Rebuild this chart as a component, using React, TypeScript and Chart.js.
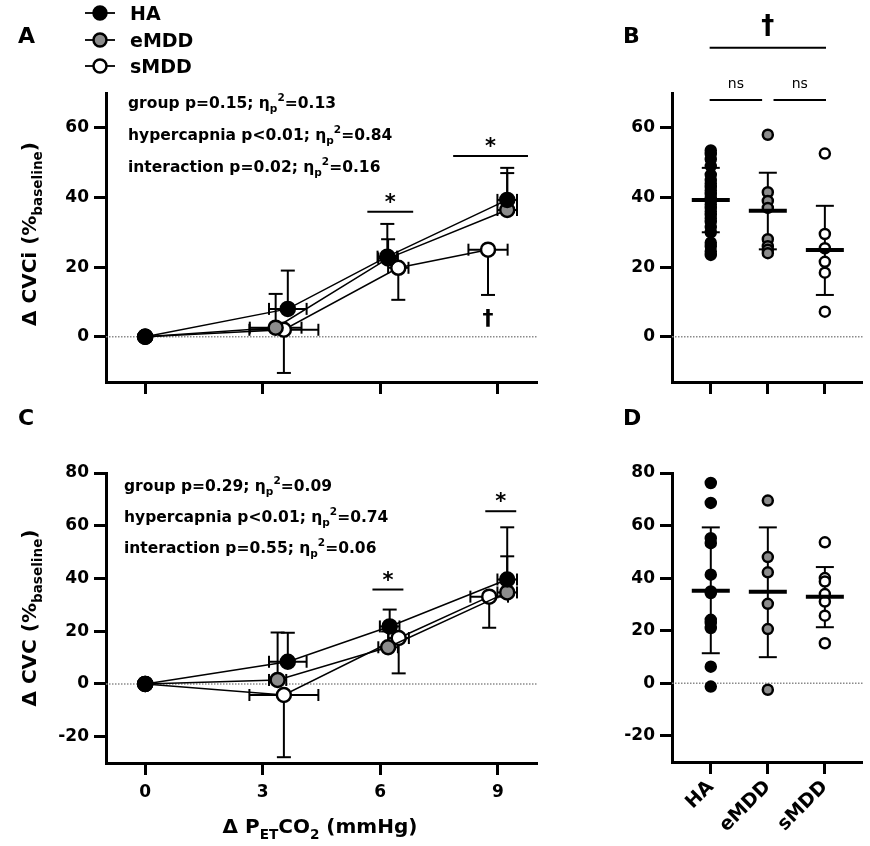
import React, { useEffect, useRef } from "react";
import { Chart, registerables } from "chart.js";

Chart.register(...registerables);

const FONT = '"DejaVu Sans", "Liberation Sans", Arial, sans-serif';

// ---------- shared ----------
const groups = ["HA", "eMDD", "sMDD"];
const groupFill = ["#000000", "#8c8c8c", "#ffffff"];
const errDir = [1, 1, -1]; // vertical error bars drawn above (HA, eMDD) or below (sMDD)
const co2Ticks = [0, 3, 6, 9];
const cvciTicks = [0, 20, 40, 60];
const cvcTicks = [-20, 0, 20, 40, 60, 80];
const groupTicks = [0, 1, 2];

// ---------- Panel A: ΔCVCi vs ΔPETCO2 ----------
const aHAx = [0, 3.64, 6.18, 9.24];
const aHAy = [0, 8.0, 23.0, 39.3];
const aHAxErr = [0, 0.48, 0.25, 0.25];
const aHAyErr = [0, 11.0, 9.4, 9.2];
const aEMx = [0, 3.33, 6.2, 9.24];
const aEMy = [0, 2.6, 22.5, 36.4];
const aEMxErr = [0, 0.66, 0.25, 0.25];
const aEMyErr = [0, 9.7, 5.5, 10.6];
const aSMx = [0, 3.54, 6.46, 8.75];
const aSMy = [0, 2.0, 19.8, 25.0];
const aSMxErr = [0, 0.88, 0.26, 0.5];
const aSMyErr = [0, 12.4, 9.2, 13.0];
const aStats = [
  ["group p=0.15; η", "=0.13"],
  ["hypercapnia p<0.01; η", "=0.84"],
  ["interaction p=0.02; η", "=0.16"],
];
const aSigX1 = [5.67, 7.86];
const aSigX2 = [6.84, 9.77];
const aSigY = [35.9, 51.9];
const aDagX = [8.75];
const aDagY = [5.5];

// ---------- Panel C: ΔCVC vs ΔPETCO2 ----------
const cHAx = [0, 3.64, 6.24, 9.24];
const cHAy = [0, 8.4, 21.8, 39.6];
const cHAxErr = [0, 0.48, 0.25, 0.25];
const cHAyErr = [0, 11.0, 6.4, 19.8];
const cEMx = [0, 3.38, 6.2, 9.24];
const cEMy = [0, 1.5, 13.9, 34.7];
const cEMxErr = [0, 0.22, 0.25, 0.25];
const cEMyErr = [0, 18.0, 6.0, 13.7];
const cSMx = [0, 3.54, 6.47, 8.78];
const cSMy = [0, -4.2, 17.4, 33.1];
const cSMxErr = [0, 0.88, 0.26, 0.48];
const cSMyErr = [0, 23.6, 13.4, 11.8];
const cStats = [
  ["group p=0.29; η", "=0.09"],
  ["hypercapnia p<0.01; η", "=0.74"],
  ["interaction p=0.55; η", "=0.06"],
];
const cSigX1 = [5.8, 8.68];
const cSigX2 = [6.59, 9.47];
const cSigY = [35.8, 65.5];

// ---------- Panel B: individual ΔCVCi ----------
const bHA = [53.5, 52.5, 51, 49, 46.5, 45, 44, 43, 42, 41, 40, 39, 38, 37, 36, 35, 34, 33, 31.5, 30, 27, 26, 24.5, 23.5];
const bEM = [58, 41.5, 39, 37, 28, 26, 25, 24];
const bSM = [52.6, 29.5, 25.4, 21.5, 18.4, 7.2];
const bMean = [39.3, 36.2, 24.9];
const bSdLow = [30.0, 25.1, 12.0];
const bSdHigh = [48.5, 47.1, 37.6];
const bBrX1 = [-0.02, -0.02, 1.1];
const bBrX2 = [2.02, 0.9, 2.02];
const bBrY = [83, 68, 68];
const bBrLabel = ["†", "ns", "ns"];

// ---------- Panel D: individual ΔCVC ----------
const dHA = [76.2, 68.6, 55.2, 53.3, 41.3, 34.9, 34.3, 24.1, 22.9, 21.0, 6.3, -1.3];
const dEM = [69.5, 48.0, 42.2, 30.2, 20.6, -2.5];
const dSM = [53.6, 40.0, 38.7, 33.9, 31.1, 25.7, 15.2];
const dMean = [35.2, 34.8, 32.9];
const dSdLow = [11.4, 9.9, 21.3];
const dSdHigh = [59.3, 59.3, 44.2];

// ---------- helpers ----------
type Part = [string, "n" | "sub" | "sup"];

function richWidth(ctx: any, parts: Part[], size: number, weight = "bold") {
  let w = 0;
  for (const [t, k] of parts) {
    const s = k === "n" ? size : size * 0.68;
    ctx.font = `${weight} ${s}px ${FONT}`;
    w += ctx.measureText(t).width;
  }
  return w;
}

function drawRich(ctx: any, x: number, y: number, parts: Part[], size: number, weight = "bold") {
  let cx = x;
  ctx.textBaseline = "alphabetic";
  ctx.textAlign = "left";
  ctx.fillStyle = "#000";
  for (const [t, k] of parts) {
    const s = k === "n" ? size : size * 0.68;
    ctx.font = `${weight} ${s}px ${FONT}`;
    const dy = k === "sub" ? size * 0.28 : k === "sup" ? -size * 0.42 : 0;
    ctx.fillText(t, cx, y + dy);
    cx += ctx.measureText(t).width;
  }
  return cx - x;
}

function seg(ctx: any, x1: number, y1: number, x2: number, y2: number) {
  ctx.beginPath();
  ctx.moveTo(x1, y1);
  ctx.lineTo(x2, y2);
  ctx.stroke();
}

function text(ctx: any, t: string, x: number, y: number, size: number, weight = "bold", align = "center") {
  ctx.font = `${weight} ${size}px ${FONT}`;
  ctx.textAlign = align;
  ctx.textBaseline = "alphabetic";
  ctx.fillStyle = "#000";
  ctx.fillText(t, x, y);
}

function zeroLine(chart: any) {
  const { ctx, chartArea, scales } = chart;
  const y = scales.y.getPixelForValue(0);
  ctx.save();
  ctx.strokeStyle = "#8a8a8a";
  ctx.lineWidth = 1.5;
  ctx.setLineDash([1.5, 1.5]);
  seg(ctx, chartArea.left, y, chartArea.right, y);
  ctx.restore();
}

function axis(ticks: number[], min: number, max: number, opts: any) {
  return {
    type: "linear",
    min,
    max,
    bounds: "data",
    afterBuildTicks: (s: any) => {
      s.ticks = ticks.map((v) => ({ value: v }));
    },
    afterFit: (s: any) => {
      if (opts.width !== undefined) s.width = opts.width;
      if (opts.height !== undefined) s.height = opts.height;
    },
    grid: { drawOnChartArea: false, drawTicks: true, tickLength: 12, tickWidth: 3, tickColor: "#000" },
    border: { display: true, width: 3, color: "#000" },
    ticks: {
      display: opts.labels,
      color: "#000",
      font: { family: FONT, size: opts.fontSize || 17, weight: "bold" },
      padding: opts.padding ?? 5,
      autoSkip: false,
      minRotation: opts.rotation || 0,
      maxRotation: opts.rotation || 0,
      callback: opts.callback || ((v: any) => String(v)),
    },
  };
}

type Series = { x: number[]; y: number[]; xErr: number[]; yErr: number[] };

function lineConfig(p: any) {
  const series: Series[] = p.series;
  const datasets = series.map((s, i) => ({
    data: s.x.map((xv, j) => ({ x: xv, y: s.y[j] })),
    showLine: true,
    borderColor: "#000",
    borderWidth: 1.5,
    pointRadius: 7,
    pointBorderWidth: 2.5,
    pointBackgroundColor: groupFill[i],
    pointBorderColor: "#000",
    backgroundColor: groupFill[i],
    clip: false,
  }));
  const errPlugin = {
    id: "errbars",
    beforeDatasetsDraw(chart: any) {
      const { ctx, scales } = chart;
      zeroLine(chart);
      ctx.save();
      ctx.strokeStyle = "#000";
      ctx.lineWidth = 2;
      for (let si = series.length - 1; si >= 0; si--) {
        const s = series[si];
        for (let j = 0; j < s.x.length; j++) {
          const px = scales.x.getPixelForValue(s.x[j]);
          const py = scales.y.getPixelForValue(s.y[j]);
          if (s.yErr[j] > 0) {
            const p1 = scales.y.getPixelForValue(s.y[j] + errDir[si] * s.yErr[j]);
            seg(ctx, px, py, px, p1);
            seg(ctx, px - 7, p1, px + 7, p1);
          }
          if (s.xErr[j] > 0) {
            const q1 = scales.x.getPixelForValue(s.x[j] - s.xErr[j]);
            const q2 = scales.x.getPixelForValue(s.x[j] + s.xErr[j]);
            seg(ctx, q1, py, q2, py);
            seg(ctx, q1, py - 6, q1, py + 6);
            seg(ctx, q2, py - 6, q2, py + 6);
          }
        }
      }
      ctx.restore();
    },
    afterDraw(chart: any) {
      const { ctx, scales } = chart;
      ctx.save();
      p.overlay(ctx, scales, p.ox, p.oy);
      ctx.restore();
    },
  };
  return {
    type: "scatter",
    data: { datasets },
    options: {
      responsive: false,
      animation: false,
      devicePixelRatio: 1,
      events: [],
      layout: { padding: p.padding },
      plugins: { legend: { display: false }, tooltip: { enabled: false } },
      scales: {
        x: axis(co2Ticks, -1, 10, { labels: p.xLabels, height: p.xHeight, padding: 7, fontSize: 17 }),
        y: axis(p.yTicks, p.yMin, p.yMax, { labels: true, width: 60 }),
      },
    },
    plugins: [errPlugin],
  };
}

function dotConfig(p: any) {
  const sets: number[][] = p.sets;
  const datasets = sets.map((vals, i) => ({
    data: vals.map((v) => ({ x: i, y: v })),
    showLine: false,
    pointRadius: 5,
    pointBorderWidth: 2.5,
    pointBackgroundColor: groupFill[i],
    pointBorderColor: "#000",
    clip: false,
  }));
  const plug = {
    id: "summary",
    beforeDatasetsDraw(chart: any) {
      const { ctx, scales } = chart;
      zeroLine(chart);
      ctx.save();
      ctx.strokeStyle = "#000";
      ctx.lineWidth = 2;
      for (let i = 0; i < p.mean.length; i++) {
        const px = scales.x.getPixelForValue(i);
        const lo = scales.y.getPixelForValue(p.low[i]);
        const hi = scales.y.getPixelForValue(p.high[i]);
        seg(ctx, px, lo, px, hi);
        seg(ctx, px - 9, lo, px + 9, lo);
        seg(ctx, px - 9, hi, px + 9, hi);
      }
      ctx.restore();
    },
    afterDatasetsDraw(chart: any) {
      const { ctx, scales } = chart;
      ctx.save();
      ctx.strokeStyle = "#000";
      ctx.lineWidth = 4;
      for (let i = 0; i < p.mean.length; i++) {
        const px = scales.x.getPixelForValue(i);
        const m = scales.y.getPixelForValue(p.mean[i]);
        seg(ctx, px - 19, m, px + 19, m);
      }
      ctx.restore();
    },
    afterDraw(chart: any) {
      const { ctx, scales } = chart;
      ctx.save();
      p.overlay(ctx, scales, p.ox, p.oy);
      ctx.restore();
    },
  };
  return {
    type: "scatter",
    data: { datasets },
    options: {
      responsive: false,
      animation: false,
      devicePixelRatio: 1,
      events: [],
      layout: { padding: p.padding },
      plugins: { legend: { display: false }, tooltip: { enabled: false } },
      scales: {
        x: axis(groupTicks, -0.68, 2.66, {
          labels: p.xLabels,
          height: p.xHeight,
          rotation: 45,
          fontSize: 19,
          padding: 2,
          callback: (v: any) => groups[v] ?? "",
        }),
        y: axis(p.yTicks, p.yMin, p.yMax, { labels: true, width: 60 }),
      },
    },
    plugins: [plug],
  };
}

function statsBlock(ctx: any, stats: string[][], x: number, ys: number[]) {
  stats.forEach((s, i) => {
    drawRich(ctx, x, ys[i], [[s[0], "n"], ["p", "sub"], ["2", "sup"], [s[1], "n"]], 15.5);
  });
}

function yTitle(ctx: any, parts: Part[], cx: number, cy: number) {
  ctx.save();
  ctx.translate(cx, cy);
  ctx.rotate(-Math.PI / 2);
  const w = richWidth(ctx, parts, 20);
  drawRich(ctx, -w / 2, 7, parts, 20);
  ctx.restore();
}

function sigBars(ctx: any, scales: any, x1: number[], x2: number[], ys: number[]) {
  ctx.strokeStyle = "#000";
  ctx.lineWidth = 2;
  for (let i = 0; i < ys.length; i++) {
    const a = scales.x.getPixelForValue(x1[i]);
    const b = scales.x.getPixelForValue(x2[i]);
    const y = scales.y.getPixelForValue(ys[i]);
    seg(ctx, a, y, b, y);
    text(ctx, "*", (a + b) / 2, y - 3, 21);
  }
}

function legend(ctx: any) {
  const ys = [13, 40, 66];
  ctx.strokeStyle = "#000";
  groups.forEach((g, i) => {
    ctx.lineWidth = 1.8;
    seg(ctx, 85, ys[i], 115, ys[i]);
    ctx.beginPath();
    ctx.arc(100, ys[i], 6.5, 0, Math.PI * 2);
    ctx.fillStyle = groupFill[i];
    ctx.fill();
    ctx.lineWidth = 2.5;
    ctx.stroke();
    text(ctx, g, 130, ys[i] + 7, 19, "bold", "left");
  });
}

// ---------- overlays (page coordinates minus offsets) ----------
function overlayA(ctx: any, scales: any, ox: number, oy: number) {
  text(ctx, "A", 18 - ox, 43 - oy, 22, "bold", "left");
  legend(ctx);
  statsBlock(ctx, aStats, 128 - ox, [108 - oy, 140 - oy, 172 - oy]);
  yTitle(ctx, [["Δ CVCi (%", "n"], ["baseline", "sub"], [")", "n"]], 29 - ox, 234 - oy);
  sigBars(ctx, scales, aSigX1, aSigX2, aSigY);
  for (let i = 0; i < aDagX.length; i++) {
    text(ctx, "†", scales.x.getPixelForValue(aDagX[i]), scales.y.getPixelForValue(aDagY[i]) + 7, 22);
  }
}

function overlayC(ctx: any, scales: any, ox: number, oy: number) {
  text(ctx, "C", 18 - ox, 425 - oy, 22, "bold", "left");
  statsBlock(ctx, cStats, 124 - ox, [491 - oy, 522 - oy, 553 - oy]);
  yTitle(ctx, [["Δ CVC (%", "n"], ["baseline", "sub"], [")", "n"]], 29 - ox, 618 - oy);
  sigBars(ctx, scales, cSigX1, cSigX2, cSigY);
  const parts: Part[] = [["Δ P", "n"], ["ET", "sub"], ["CO", "n"], ["2", "sub"], [" (mmHg)", "n"]];
  const w = richWidth(ctx, parts, 20);
  drawRich(ctx, 320 - ox - w / 2, 833 - oy, parts, 20);
}

function overlayB(ctx: any, scales: any, ox: number, oy: number) {
  text(ctx, "B", 623 - ox, 43 - oy, 22, "bold", "left");
  ctx.strokeStyle = "#000";
  ctx.lineWidth = 2;
  for (let i = 0; i < bBrY.length; i++) {
    const a = scales.x.getPixelForValue(bBrX1[i]);
    const b = scales.x.getPixelForValue(bBrX2[i]);
    const y = scales.y.getPixelForValue(bBrY[i]);
    seg(ctx, a, y, b, y);
    if (bBrLabel[i] === "ns") text(ctx, "ns", (a + b) / 2, y - 12, 14, "normal");
    else text(ctx, bBrLabel[i], (a + b) / 2, y - 14, 26);
  }
}

function overlayD(ctx: any, scales: any, ox: number, oy: number) {
  text(ctx, "D", 623 - ox, 425 - oy, 22, "bold", "left");
}

// ---------- components ----------
function ChartCanvas({ left, top, width, height, make }: any) {
  const ref = useRef<HTMLCanvasElement | null>(null);
  useEffect(() => {
    const chart = new Chart(ref.current as any, make());
    return () => chart.destroy();
  }, []);
  return (
    <canvas
      ref={ref}
      width={width}
      height={height}
      style={{ position: "absolute", left, top, width, height, display: "block" }}
    />
  );
}

export default function App() {
  const seriesA: Series[] = [
    { x: aHAx, y: aHAy, xErr: aHAxErr, yErr: aHAyErr },
    { x: aEMx, y: aEMy, xErr: aEMxErr, yErr: aEMyErr },
    { x: aSMx, y: aSMy, xErr: aSMxErr, yErr: aSMyErr },
  ];
  const seriesC: Series[] = [
    { x: cHAx, y: cHAy, xErr: cHAxErr, yErr: cHAyErr },
    { x: cEMx, y: cEMy, xErr: cEMxErr, yErr: cEMyErr },
    { x: cSMx, y: cSMy, xErr: cSMxErr, yErr: cSMyErr },
  ];
  return (
    <div style={{ position: "absolute", left: 0, top: 0, width: 870, height: 846, background: "#fff", overflow: "hidden" }}>
      <ChartCanvas
        left={0}
        top={0}
        width={560}
        height={400}
        make={() =>
          lineConfig({
            series: seriesA,
            yTicks: cvciTicks,
            yMin: -13,
            yMax: 70,
            xLabels: false,
            xHeight: 14,
            padding: { left: 46, right: 23, top: 93, bottom: 4 },
            overlay: overlayA,
            ox: 0,
            oy: 0,
          })
        }
      />
      <ChartCanvas
        left={580}
        top={0}
        width={290}
        height={400}
        make={() =>
          dotConfig({
            sets: [bHA, bEM, bSM],
            mean: bMean,
            low: bSdLow,
            high: bSdHigh,
            yTicks: cvciTicks,
            yMin: -13,
            yMax: 70,
            xLabels: false,
            xHeight: 14,
            padding: { left: 32, right: 6, top: 93, bottom: 4 },
            overlay: overlayB,
            ox: 580,
            oy: 0,
          })
        }
      />
      <ChartCanvas
        left={0}
        top={400}
        width={560}
        height={446}
        make={() =>
          lineConfig({
            series: seriesC,
            yTicks: cvcTicks,
            yMin: -30,
            yMax: 80,
            xLabels: true,
            xHeight: 45,
            padding: { left: 46, right: 23, top: 73, bottom: 38 },
            overlay: overlayC,
            ox: 0,
            oy: 400,
          })
        }
      />
      <ChartCanvas
        left={580}
        top={400}
        width={290}
        height={446}
        make={() =>
          dotConfig({
            sets: [dHA, dEM, dSM],
            mean: dMean,
            low: dSdLow,
            high: dSdHigh,
            yTicks: cvcTicks,
            yMin: -30,
            yMax: 80,
            xLabels: true,
            xHeight: 80,
            padding: { left: 32, right: 6, top: 73, bottom: 4 },
            overlay: overlayD,
            ox: 580,
            oy: 400,
          })
        }
      />
    </div>
  );
}
